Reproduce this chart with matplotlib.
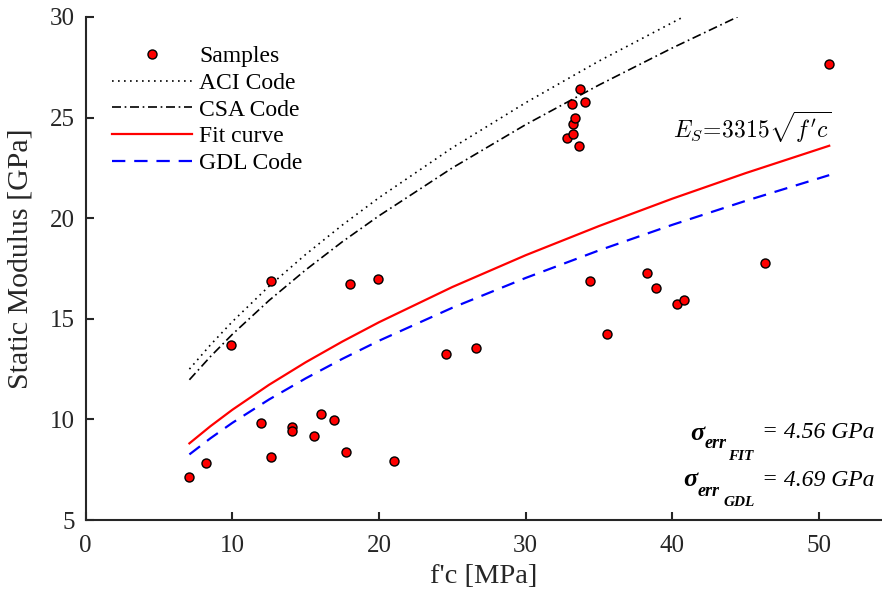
import matplotlib
matplotlib.use("Agg")
import matplotlib.pyplot as plt
import numpy as np

plt.rcParams['font.family'] = ['Liberation Serif', 'DejaVu Serif']

# measured samples (f'c [MPa], Es [GPa])
fc = [7.07, 8.18, 9.93, 11.96, 12.6, 12.62, 14.07, 14.07, 15.55, 16.07, 16.92,
      17.73, 18.05, 19.94, 21.0, 24.6, 26.6, 32.8, 33.15, 33.2, 33.2, 33.38,
      33.65, 33.7, 34.06, 34.4, 35.56, 38.3, 38.92, 40.29, 40.81, 46.29, 50.7]
es = [7.15, 7.82, 13.68, 9.82, 8.12, 16.88, 9.6, 9.44, 9.16, 10.28, 9.95,
      8.39, 16.73, 17.0, 7.95, 13.25, 13.55, 23.97, 25.7, 24.67, 24.19, 24.97,
      23.59, 26.4, 25.75, 16.88, 14.24, 17.29, 16.51, 15.72, 15.93, 17.76, 27.68]

# curves
fc_fit = [7.07, 8.5, 10, 12.5, 15, 17.5, 20, 25, 30, 35, 40, 45, 50.7]
es_fit = [8.81, 9.66, 10.48, 11.72, 12.84, 13.87, 14.83, 16.58, 18.16, 19.61, 20.97, 22.24, 23.60]
es_gdl = [8.26, 9.06, 9.83, 10.99, 12.04, 13.01, 13.91, 15.55, 17.03, 18.40, 19.67, 20.86, 22.14]

fc_aci = [7.07, 8.5, 10, 12.5, 15, 17.5, 20, 25, 30, 35, 40.74]
es_aci = [12.50, 13.70, 14.86, 16.62, 18.20, 19.66, 21.02, 23.50, 25.74, 27.81, 30.0]

fc_csa = [7.07, 8.5, 10, 12.5, 15, 17.5, 20, 25, 30, 35, 40, 44.44]
es_csa = [11.97, 13.12, 14.23, 15.91, 17.43, 18.83, 20.12, 22.50, 24.65, 26.62, 28.46, 30.0]

# error stats
err_names = ['FIT', 'GDL']
err_vals = ['4.56', '4.69']

W, H = 882, 598
fig = plt.figure(figsize=(W / 100, H / 100), dpi=100)
ax = fig.add_axes([0.0972, 0.1304, 0.9028, 0.8412])

ax.plot(fc, es, 'o', color='red', markeredgecolor='black', markeredgewidth=1.0,
        markersize=6.5, label='Samples', zorder=5)
ax.plot(fc_aci, es_aci, color='black', lw=1.2, dashes=(1, 2.6), label='ACI Code')
ax.plot(fc_csa, es_csa, color='black', lw=1.2, dashes=(5.4, 2.2, 1, 2.2), label='CSA Code')
ax.plot(fc_fit, es_fit, color='red', lw=1.6, label='Fit curve')
ax.plot(fc_fit, es_gdl, color='blue', lw=1.6, dashes=(6, 4), label='GDL Code')

ax.set_xlim(0, 54.3)
ax.set_ylim(5, 30)
ax.set_xticks([0, 10, 20, 30, 40, 50])
ax.set_yticks([5, 10, 15, 20, 25, 30])

for s in ['top', 'right']:
    ax.spines[s].set_visible(False)
for s in ['left', 'bottom']:
    ax.spines[s].set_color('#262626')
    ax.spines[s].set_linewidth(1.5)
ax.tick_params(direction='in', length=6, width=1.5, color='#262626',
               labelcolor='#262626', labelsize=18)
ax.tick_params(axis='x', pad=11)
ax.tick_params(axis='y', pad=8)

ax.set_xlabel("f'c [MPa]", fontsize=20.5, color='#262626', labelpad=5)
ax.set_ylabel("Static Modulus [GPa]", fontsize=21.5, color='#262626')
ax.yaxis.set_label_coords(-0.066, 0.52)

ax.legend(loc='upper left', bbox_to_anchor=(0.006, 0.985), frameon=False, fontsize=17,
          handlelength=3.4, handletextpad=0.3, labelspacing=0.22)

ax.text(50.9, 24.55, r"$E_S\!=\!3315\sqrt{f'c}$", fontsize=17, ha='right', va='center',
        math_fontfamily='cm')

# sigma_err annotations, placed in figure pixels
def px(x, y):
    return x / W, 1 - y / H

for i, (name, val) in enumerate(zip(err_names, err_vals)):
    dy = i * 47
    x0 = 690 - i * 7
    fig.text(*px(x0, 433 + dy), '\u03c3', fontsize=19, fontweight='bold', style='italic',
             ha='left', va='center')
    fig.text(*px(x0 + 15, 444 + dy), 'err', fontsize=13, fontweight='bold', style='italic',
             ha='left', va='center')
    fig.text(*px(x0 + 38 + i * 2, 456 + dy), name, fontsize=11, fontweight='bold',
             style='italic', ha='left', va='center')
    fig.text(*px(875, 433 + dy), '= ' + val + ' GPa', fontsize=17, style='italic',
             ha='right', va='center')

fig.savefig('out.png', dpi=100)
